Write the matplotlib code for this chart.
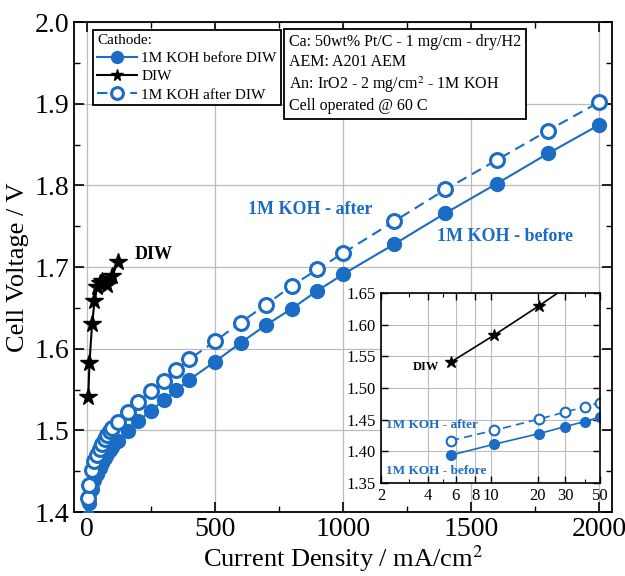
import matplotlib
matplotlib.use("Agg")
import matplotlib.pyplot as plt
from matplotlib.ticker import MultipleLocator, FixedLocator, FixedFormatter, FormatStrFormatter

plt.rcParams['font.family'] = ['Liberation Serif', 'DejaVu Serif']
plt.rcParams['mathtext.fontset'] = 'stix'

BLUE = '#1a6cc4'

# Data
j_before = [5.6, 10.5, 20.5, 30, 40, 50, 60, 70, 80, 90, 100, 120, 160, 200, 250, 300, 350, 400,
            500, 600, 700, 800, 900, 1000, 1200, 1400, 1600, 1800, 2000]
v_before = [1.394, 1.411, 1.428, 1.439, 1.447, 1.454, 1.460, 1.466, 1.471, 1.476, 1.480, 1.487,
            1.499, 1.511, 1.524, 1.537, 1.549, 1.562, 1.584, 1.607, 1.629, 1.649, 1.671, 1.691,
            1.728, 1.766, 1.802, 1.839, 1.874]
j_after = [5.6, 10.5, 20.5, 30, 40, 50, 60, 70, 80, 90, 100, 120, 160, 200, 250, 300, 350, 400,
           500, 600, 700, 800, 900, 1000, 1200, 1400, 1600, 1800, 2000]
v_after = [1.417, 1.433, 1.451, 1.462, 1.470, 1.477, 1.483, 1.489, 1.494, 1.499, 1.503, 1.510,
           1.523, 1.535, 1.548, 1.560, 1.574, 1.587, 1.609, 1.632, 1.654, 1.677, 1.697, 1.717,
           1.756, 1.795, 1.831, 1.867, 1.902]
j_diw = [5.6, 10.5, 20.5, 30, 40, 50, 60, 70, 80, 100, 120]
v_diw = [1.541, 1.583, 1.630, 1.658, 1.675, 1.681, 1.683, 1.680, 1.678, 1.689, 1.706]

info_lines = ["Ca: 50wt% Pt/C - 1 mg/cm - dry/H2", "AEM: A201 AEM",
              "An: IrO2 - 2 mg/cm$^2$ - 1M KOH", "Cell operated @ 60 C"]
inset_xticks = [2, 4, 6, 8, 10, 20, 30, 50]
inset_xlabels = ['2', '4', '6', '8', '10', '20', '30', '50']

fig = plt.figure(figsize=(6.25, 5.76), dpi=100)
ax = fig.add_axes([0.1184, 0.1111, 0.8608, 0.8507])

ax.plot(j_before, v_before, '-', color=BLUE, lw=1.5, marker='o', ms=10,
        mfc=BLUE, mec=BLUE, label='1M KOH before DIW', zorder=3)
ax.plot(j_diw, v_diw, '-', color='black', lw=1.5, marker='*', ms=13,
        mfc='black', mec='black', label='DIW', zorder=4)
ax.plot(j_after, v_after, '--', color=BLUE, lw=1.5, dashes=(5, 3), marker='o', ms=10,
        mfc='white', mec=BLUE, mew=2.2, label='1M KOH after DIW', zorder=3)

ax.set_xlim(-50, 2050)
ax.set_ylim(1.4, 2.0)
ax.xaxis.set_major_locator(MultipleLocator(500))
ax.xaxis.set_minor_locator(MultipleLocator(250))
ax.yaxis.set_major_locator(MultipleLocator(0.1))
ax.yaxis.set_minor_locator(MultipleLocator(0.05))
ax.grid(True, which='major', color='#bbbbbb', lw=0.9)
ax.tick_params(which='both', direction='in', top=True, right=True, labelsize=20)
ax.tick_params(which='major', length=7, width=1.2)
ax.tick_params(which='minor', length=4, width=1.0)
for s in ax.spines.values():
    s.set_linewidth(1.3)
ax.set_xlabel('Current Density / mA/cm$^2$', fontsize=19, labelpad=1)
ax.set_ylabel('Cell Voltage / V', fontsize=19)

leg = ax.legend(loc='upper left', bbox_to_anchor=(0.03, 0.99), title='Cathode:',
                fontsize=11, title_fontsize=11, frameon=True, fancybox=False,
                edgecolor='black', framealpha=1, borderpad=0.25, labelspacing=0.3,
                handlelength=2.6, handletextpad=0.3, borderaxespad=0.2)
leg._legend_box.align = 'left'
leg.get_frame().set_linewidth(1.3)
for h in leg.legend_handles:
    h.set_markersize(8.5)

ax.text(0.4, 0.975, "\n".join(info_lines), transform=ax.transAxes, fontsize=11.5,
        va='top', ha='left', linespacing=1.3,
        bbox=dict(boxstyle='square,pad=0.3', fc='white', ec='black', lw=1.3), zorder=6)

ax.text(629, 1.770, '1M KOH - after', color=BLUE, fontsize=13, fontweight='bold',
        va='center', zorder=5)
ax.text(1367, 1.737, '1M KOH - before', color=BLUE, fontsize=13, fontweight='bold',
        va='center', zorder=5)
ax.text(187, 1.715, 'DIW', color='black', fontsize=13, fontweight='bold', va='center', zorder=5)

# Inset
ins = fig.add_axes([0.6096, 0.1615, 0.3504, 0.330])
ins.plot(j_before, v_before, '-', color=BLUE, lw=1.2, marker='o', ms=7, mfc=BLUE, mec=BLUE)
ins.plot(j_after, v_after, '--', color=BLUE, lw=1.2, dashes=(5, 3), marker='o', ms=7,
         mfc='white', mec=BLUE, mew=1.5)
ins.plot(j_diw, v_diw, '-', color='black', lw=1.2, marker='*', ms=9, mfc='black', mec='black')
ins.set_xscale('log')
ins.set_xlim(2, 50)
ins.set_ylim(1.35, 1.65)
ins.xaxis.set_major_locator(FixedLocator(inset_xticks))
ins.xaxis.set_major_formatter(FixedFormatter(inset_xlabels))
ins.xaxis.set_minor_locator(FixedLocator([3, 5, 40]))
ins.xaxis.set_minor_formatter(FixedFormatter([]))
ins.yaxis.set_major_locator(MultipleLocator(0.05))
ins.yaxis.set_major_formatter(FormatStrFormatter('%.2f'))
ins.grid(True, which='major', color='#bbbbbb', lw=0.8)
ins.tick_params(which='both', direction='in', top=True, right=True, labelsize=12)
ins.tick_params(which='major', length=5, width=1.0)
ins.tick_params(which='minor', length=3, width=0.8)
for s in ins.spines.values():
    s.set_linewidth(1.2)
ins.text(3.2, 1.533, 'DIW', fontsize=9, fontweight='bold', color='black', va='center')
ins.text(2.15, 1.442, '1M KOH - after', fontsize=9.5, fontweight='bold', color=BLUE, va='center')
ins.text(2.15, 1.369, '1M KOH - before', fontsize=9.5, fontweight='bold', color=BLUE, va='center')

fig.savefig('out.png', dpi=100)
